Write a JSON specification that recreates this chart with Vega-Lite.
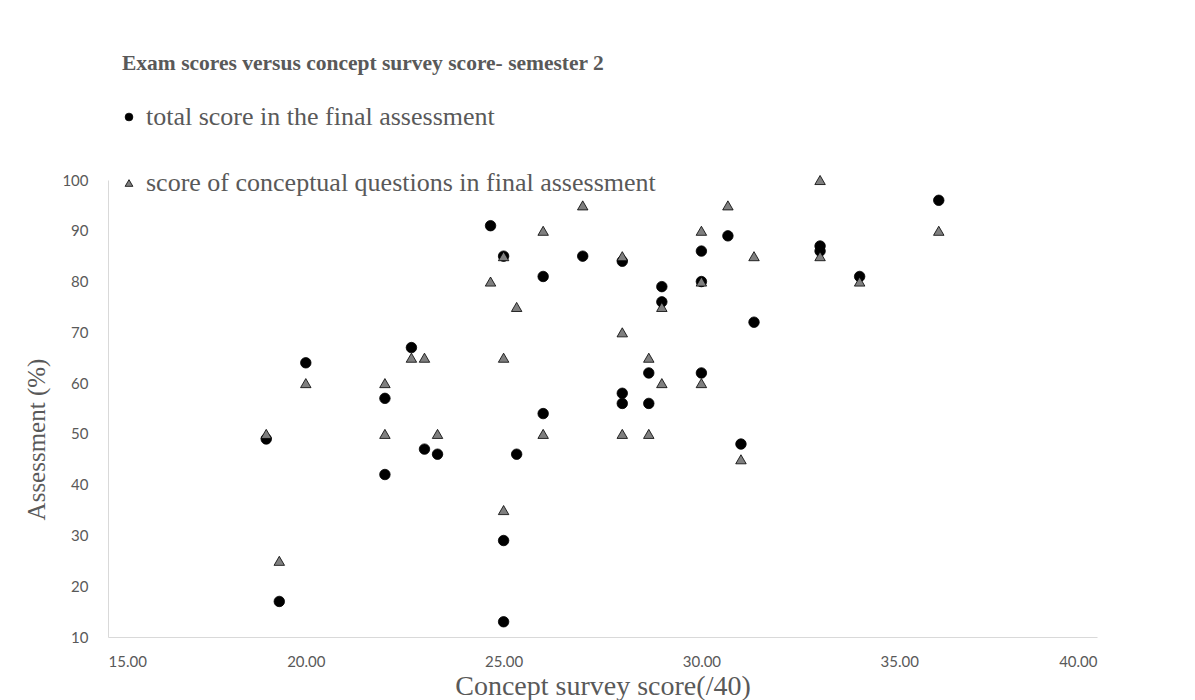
{
  "$schema": "https://vega.github.io/schema/vega-lite/v6.json",
  "autosize": "none",
  "width": 989,
  "height": 457,
  "padding": {"left": 108, "top": 180, "right": 98, "bottom": 63},
  "background": "white",
  "title": {
    "text": "Exam scores versus concept survey score- semester 2",
    "anchor": "start",
    "frame": "group",
    "dx": 14,
    "offset": 30,
    "font": "Liberation Serif",
    "fontSize": 21.5,
    "fontWeight": "bold",
    "color": "#595959"
  },
  "data": {
    "values": [
      {"survey": 19, "total": 49, "conceptual": 50},
      {"survey": 19.33, "total": 17, "conceptual": 25},
      {"survey": 20, "total": 64, "conceptual": 60},
      {"survey": 22, "total": 57, "conceptual": 60},
      {"survey": 22, "total": 42, "conceptual": 50},
      {"survey": 22.67, "total": 67, "conceptual": 65},
      {"survey": 23, "total": 47, "conceptual": 65},
      {"survey": 23.33, "total": 46, "conceptual": 50},
      {"survey": 24.67, "total": 91, "conceptual": 80},
      {"survey": 25, "total": 85, "conceptual": 85},
      {"survey": 25, "total": 29, "conceptual": 65},
      {"survey": 25, "total": 13, "conceptual": 35},
      {"survey": 25.33, "total": 46, "conceptual": 75},
      {"survey": 26, "total": 81, "conceptual": 90},
      {"survey": 26, "total": 54, "conceptual": 50},
      {"survey": 27, "total": 85, "conceptual": 95},
      {"survey": 28, "total": 84, "conceptual": 85},
      {"survey": 28, "total": 58, "conceptual": 70},
      {"survey": 28, "total": 56, "conceptual": 50},
      {"survey": 28.67, "total": 62, "conceptual": 65},
      {"survey": 28.67, "total": 56, "conceptual": 50},
      {"survey": 29, "total": 79, "conceptual": 75},
      {"survey": 29, "total": 76, "conceptual": 60},
      {"survey": 30, "total": 86, "conceptual": 90},
      {"survey": 30, "total": 80, "conceptual": 80},
      {"survey": 30, "total": 62, "conceptual": 60},
      {"survey": 30.67, "total": 89, "conceptual": 95},
      {"survey": 31, "total": 48, "conceptual": 45},
      {"survey": 31.33, "total": 72, "conceptual": 85},
      {"survey": 33, "total": 87, "conceptual": 100},
      {"survey": 33, "total": 86, "conceptual": 85},
      {"survey": 34, "total": 81, "conceptual": 80},
      {"survey": 36, "total": 96, "conceptual": 90}
    ]
  },
  "transform": [
    {"fold": ["total", "conceptual"], "as": ["key", "value"]}
  ],
  "mark": {"type": "point", "filled": true, "stroke": "black", "strokeWidth": 0.8, "opacity": 1},
  "encoding": {
    "x": {
      "field": "survey",
      "type": "quantitative",
      "scale": {"domain": [15, 40], "nice": false, "zero": false},
      "axis": {
        "values": [15, 20, 25, 30, 35, 40],
        "format": ".2f",
        "title": "Concept survey score(/40)",
        "titleFontSize": 28,
        "labelPadding": 17,
        "titlePadding": 3
      }
    },
    "y": {
      "field": "value",
      "type": "quantitative",
      "scale": {"domain": [10, 100], "nice": false, "zero": false},
      "axis": {
        "values": [10, 20, 30, 40, 50, 60, 70, 80, 90, 100],
        "title": "Assessment (%)",
        "titleFontSize": 25,
        "labelPadding": 20,
        "titlePadding": 12,
        "titleY": 259
      }
    },
    "color": {
      "field": "key",
      "type": "nominal",
      "scale": {"domain": ["total", "conceptual"], "range": ["black", "#7f7f7f"]},
      "legend": {
        "title": null,
        "orient": "none",
        "legendX": 8,
        "legendY": -76,
        "rowPadding": 40,
        "labelExpr": "datum.value == 'total' ? 'total score in the final assessment' : 'score of conceptual questions in final assessment'"
      }
    },
    "shape": {
      "field": "key",
      "type": "nominal",
      "scale": {"domain": ["total", "conceptual"], "range": ["circle", "triangle-up"]},
      "legend": {
        "title": null,
        "orient": "none",
        "legendX": 8,
        "legendY": -76,
        "rowPadding": 40,
        "labelExpr": "datum.value == 'total' ? 'total score in the final assessment' : 'score of conceptual questions in final assessment'"
      }
    },
    "size": {"value": 110},
    "order": {"field": "key", "sort": "descending"}
  },
  "config": {
    "view": {"stroke": null},
    "axis": {
      "grid": false,
      "ticks": false,
      "domainColor": "#d9d9d9",
      "domainWidth": 1,
      "labelFont": "Lato",
      "labelFontSize": 15,
      "labelColor": "#595959",
      "titleFont": "Liberation Serif",
      "titleFontSize": 26,
      "titleFontWeight": "normal",
      "titleColor": "#595959"
    },
    "legend": {
      "labelFont": "Liberation Serif",
      "labelFontSize": 26,
      "labelColor": "#595959",
      "labelLimit": 0,
      "symbolSize": 60,
      "symbolStrokeColor": "black",
      "symbolStrokeWidth": 0.8,
      "labelOffset": 4
    }
  }
}
